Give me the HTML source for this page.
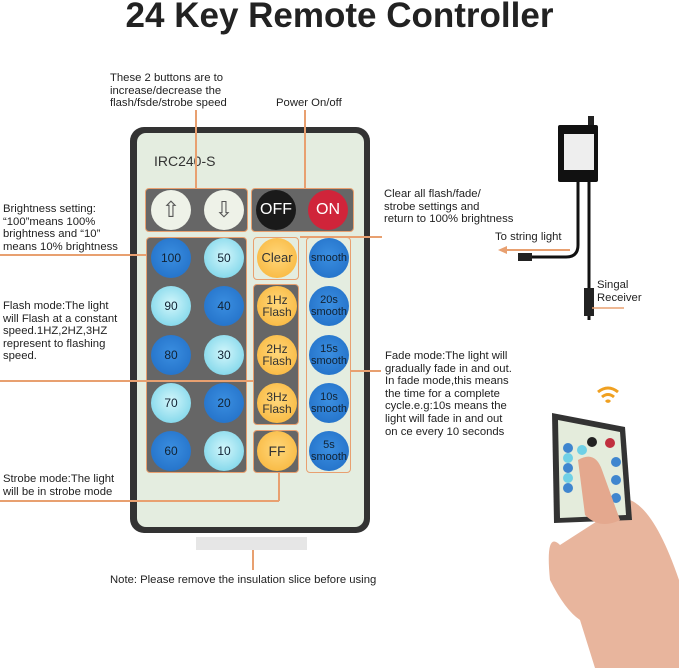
<!DOCTYPE html><html><head><style>
body{margin:0;width:679px;height:668px;background:#fff;position:relative;overflow:hidden;font-family:"Liberation Sans",sans-serif;color:#222}
.t{position:absolute;font-size:11.3px;line-height:12.6px;white-space:nowrap}
.a{position:absolute}
.g{position:absolute;background:#666;border:1.5px solid #e8a070;border-radius:4px;box-sizing:border-box}
.c{position:absolute;width:40px;height:40px;border-radius:50%;display:flex;align-items:center;justify-content:center;text-align:center;font-size:12px;color:#123;line-height:12px}
.d{background:radial-gradient(circle at 50% 45%,#3a8ee0,#1f6cc4)}
.l{background:radial-gradient(circle at 50% 45%,#d2f6fb,#6dcfe6)}
.y{background:radial-gradient(circle at 50% 45%,#ffd77a,#f7b235);color:#333}
.o{position:absolute;background:#e8a070}
</style></head><body>
<div class="a" style="left:0;top:-4px;width:679px;text-align:center;font-size:35px;font-weight:bold;color:#222">24 Key Remote Controller</div>
<div class="t" style="left:110px;top:72px">These 2 buttons are to<br>increase/decrease the<br>flash/fsde/strobe speed</div>
<div class="t" style="left:276px;top:97px">Power On/off</div>
<div class="t" style="left:384px;top:188px">Clear all flash/fade/<br>strobe settings and<br>return to 100% brightness</div>
<div class="t" style="left:3px;top:203px">Brightness setting:<br>“100”means 100%<br>brightness and “10”<br>means 10% brightness</div>
<div class="t" style="left:495px;top:231px">To string light</div>
<div class="t" style="left:597px;top:279px">Singal<br>Receiver</div>
<div class="t" style="left:3px;top:300px">Flash mode:The light<br>will Flash at a constant<br>speed.1HZ,2HZ,3HZ<br>represent to flashing<br>speed.</div>
<div class="t" style="left:385px;top:350px">Fade mode:The light will<br>gradually fade in and out.<br>In fade mode,this means<br>the time for a complete<br>cycle.e.g:10s means the<br>light will fade in and out<br>on ce every 10 seconds</div>
<div class="t" style="left:3px;top:473px">Strobe mode:The light<br>will be in strobe mode</div>
<div class="t" style="left:110px;top:574px">Note: Please remove the insulation slice before using</div>
<!-- remote -->
<div class="a" style="left:130px;top:127px;width:240px;height:406px;background:#333;border-radius:14px"></div>
<div class="a" style="left:137px;top:133px;width:227px;height:394px;background:#e4ede0;border-radius:9px"></div>
<div class="a" style="left:196px;top:537px;width:111px;height:13px;background:#e6e6e6"></div>
<div class="t" style="left:154px;top:155px;font-size:14px;color:#333">IRC240-S</div>
<div class="g" style="left:145px;top:188px;width:103px;height:44px"></div>
<div class="g" style="left:251px;top:188px;width:103px;height:44px"></div>
<div class="g" style="left:146px;top:237px;width:101px;height:236px"></div>
<div class="g" style="left:253px;top:237px;width:46px;height:43px;background:#e4ede0"></div>
<div class="g" style="left:253px;top:284px;width:46px;height:141px"></div>
<div class="g" style="left:253px;top:430px;width:46px;height:43px"></div>
<div class="g" style="left:306px;top:237px;width:45px;height:236px;background:#e4ede0"></div>
<div class="c" style="left:151px;top:190px;background:#eef2e8;font-size:22px;color:#555">⇧</div>
<div class="c" style="left:204px;top:190px;background:#eef2e8;font-size:22px;color:#555">⇩</div>
<div class="c" style="left:256px;top:190px;background:#1a1a1a;color:#fff;font-size:16px">OFF</div>
<div class="c" style="left:308px;top:190px;background:#d0243a;color:#fff;font-size:16px">ON</div>
<div class="c d" style="left:151px;top:238px">100</div><div class="c l" style="left:204px;top:238px">50</div>
<div class="c l" style="left:151px;top:286px">90</div><div class="c d" style="left:204px;top:286px">40</div>
<div class="c d" style="left:151px;top:335px">80</div><div class="c l" style="left:204px;top:335px">30</div>
<div class="c l" style="left:151px;top:383px">70</div><div class="c d" style="left:204px;top:383px">20</div>
<div class="c d" style="left:151px;top:431px">60</div><div class="c l" style="left:204px;top:431px">10</div>
<div class="c y" style="left:257px;top:238px;font-size:13px">Clear</div>
<div class="c y" style="left:257px;top:286px">1Hz<br>Flash</div>
<div class="c y" style="left:257px;top:335px">2Hz<br>Flash</div>
<div class="c y" style="left:257px;top:383px">3Hz<br>Flash</div>
<div class="c y" style="left:257px;top:431px;font-size:14px">FF</div>
<div class="c d" style="left:309px;top:238px;font-size:11px">smooth</div>
<div class="c d" style="left:309px;top:286px;font-size:11px">20s<br>smooth</div>
<div class="c d" style="left:309px;top:335px;font-size:11px">15s<br>smooth</div>
<div class="c d" style="left:309px;top:383px;font-size:11px">10s<br>smooth</div>
<div class="c d" style="left:309px;top:431px;font-size:11px">5s<br>smooth</div>
<!-- lines -->
<div class="o" style="left:195px;top:110px;width:1.5px;height:78px"></div>
<div class="o" style="left:304px;top:110px;width:1.5px;height:78px"></div>
<div class="o" style="left:0;top:254px;width:146px;height:1.5px"></div>
<div class="o" style="left:300px;top:236px;width:82px;height:1.5px"></div>
<div class="o" style="left:0;top:380px;width:253px;height:1.5px"></div>
<div class="o" style="left:351px;top:370px;width:30px;height:1.5px"></div>
<div class="o" style="left:0;top:500px;width:279px;height:1.5px"></div>
<div class="o" style="left:278px;top:473px;width:1.5px;height:28px"></div>
<div class="o" style="left:252px;top:550px;width:1.5px;height:20px"></div>
<!-- receiver -->
<svg class="a" style="left:480px;top:110px" width="199" height="230">
<rect x="108" y="6" width="6" height="10" fill="#222"/>
<rect x="78" y="15" width="40" height="57" rx="2" fill="#111"/>
<rect x="84" y="24" width="30" height="36" fill="#eee"/>
<path d="M98 72 V135 Q98 147 86 147 H52" stroke="#111" stroke-width="3" fill="none"/>
<path d="M109 72 V210" stroke="#111" stroke-width="3" fill="none"/>
<rect x="38" y="143" width="14" height="8" fill="#222"/>
<rect x="104" y="178" width="10" height="28" fill="#222"/>
<path d="M90 140 H24" stroke="#e8a070" stroke-width="2"/><path d="M18 140 l9 -4 v8z" fill="#e8a070"/>
<path d="M112 198 H144" stroke="#e8a070" stroke-width="1.5"/>
</svg>
<!-- hand & remote -->
<svg class="a" style="left:520px;top:380px" width="159" height="288">
<path d="M78 12 q10 -8 20 0 M82 17 q6 -5 12 0 M86 22 q2 -2 4 0" stroke="#f0a020" stroke-width="3" fill="none"/>
<path d="M40 165 Q25 150 30 200 Q45 230 60 240 L75 288 H159 V200 Q135 130 110 120 Z" fill="#e8b59d"/>
<path d="M32 33 L105 47 L112 140 L34 143 Z" fill="#333"/>
<path d="M38 40 L100 52 L106 135 L40 138 Z" fill="#e4ecdc"/>
<g fill="#3f86cf"><circle cx="48" cy="68" r="5"/><circle cx="48" cy="88" r="5"/><circle cx="48" cy="108" r="5"/><circle cx="96" cy="82" r="5"/><circle cx="96" cy="100" r="5"/><circle cx="96" cy="118" r="5"/></g>
<g fill="#6fd0e6"><circle cx="62" cy="70" r="5"/><circle cx="48" cy="78" r="5"/><circle cx="48" cy="98" r="5"/></g>
<circle cx="72" cy="62" r="5" fill="#222"/><circle cx="90" cy="63" r="5" fill="#c0303f"/>
<path d="M58 80 Q75 70 82 90 L100 140 Q80 150 65 135 Z" fill="#e4a88e"/>
</svg>
</body></html>
